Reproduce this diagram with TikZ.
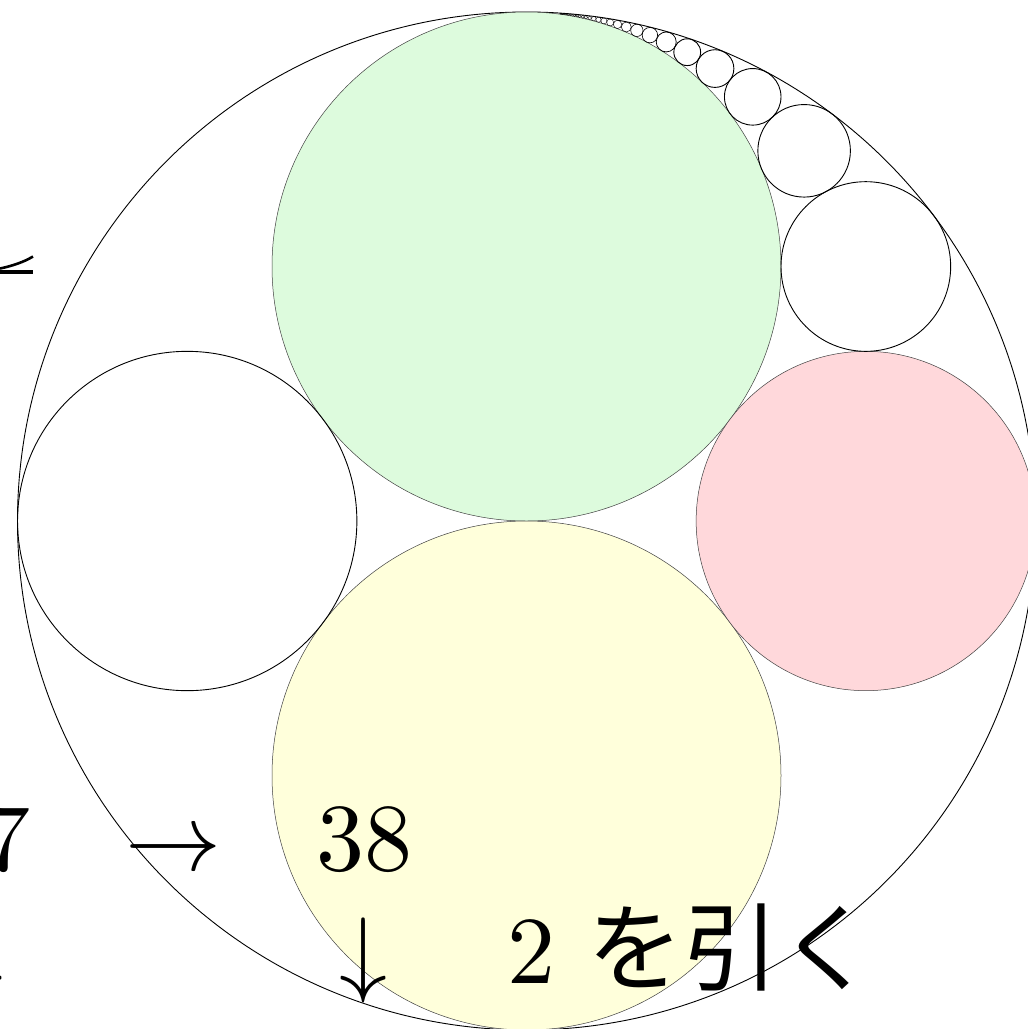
\documentclass[tikz,border=0pt]{standalone}
\usepackage{fontspec}
\newfontfamily\jpfont{Noto Sans CJK JP}
\definecolor{cgreen}{RGB}{221,251,221}
\definecolor{cyellow}{RGB}{255,255,219}
\definecolor{cpink}{RGB}{255,216,219}
\tikzset{
  ring/.style={draw=black,line width=0.9pt},
  colring/.style={draw=black!75,line width=0.5pt},
  txt/.style={inner sep=0pt,font=\normalsize},
}
\newcommand{\bigtxt}[1]{\scalebox{9.6}{#1}}
\begin{document}
\begin{tikzpicture}[x=1pt,y=1pt]
\clip (0,-1029) rectangle (1028,0);
\fill[white] (0,-1029) rectangle (1028,0);
% outer circle
\draw[ring] (526.5,-521) circle[radius=509];
% big coloured circles
\draw[colring,fill=cgreen] (526.5,-266.5) circle[radius=254.5];
\draw[colring,fill=cyellow] (526.5,-775.5) circle[radius=254.5];
\draw[colring,fill=cpink] (865.8,-521) circle[radius=169.67];
\draw[ring] (187.2,-521) circle[radius=169.67];
% Pappus chain
\foreach \n in {2,...,30}{
  \pgfmathsetmacro\den{\n*\n+2}
  \pgfmathsetmacro\rr{509/\den}
  \pgfmathsetmacro\cx{526.5+509*(2*\n/\den)}
  \pgfmathsetmacro\cy{-521+509*(1-3/\den)}
  \pgfmathsetmacro\lw{min(0.9,0.25+\rr/20)}
  \draw[draw=black,line width=\lw pt] (\cx,\cy) circle[radius=\rr];
}
% fragment at upper left
\draw[line width=3.5pt] (0,-272) -- (33,-272);
\draw[line width=2.6pt] (0,-268.5) .. controls (12,-266) and (24,-262) .. (33,-256.5);
% texts
\node[txt,anchor=base east] (t7) at (31,-870) {\bigtxt{7}};
\node[txt,anchor=base west] (tar) at (125,-870) {\bigtxt{$\rightarrow$}};
\node[txt,anchor=base west] (t38) at (316,-870) {\bigtxt{38}};
\node[txt,anchor=base] (tdl) at (-20,-984.5) {\bigtxt{$\downarrow$}};
\node[txt,anchor=base] (tdn) at (363,-984.5) {\bigtxt{$\downarrow$}};
\node[txt,anchor=base west] (tsub) at (507,-983) {\bigtxt{2 {\jpfont を引く}}};
\end{tikzpicture}
\end{document}
